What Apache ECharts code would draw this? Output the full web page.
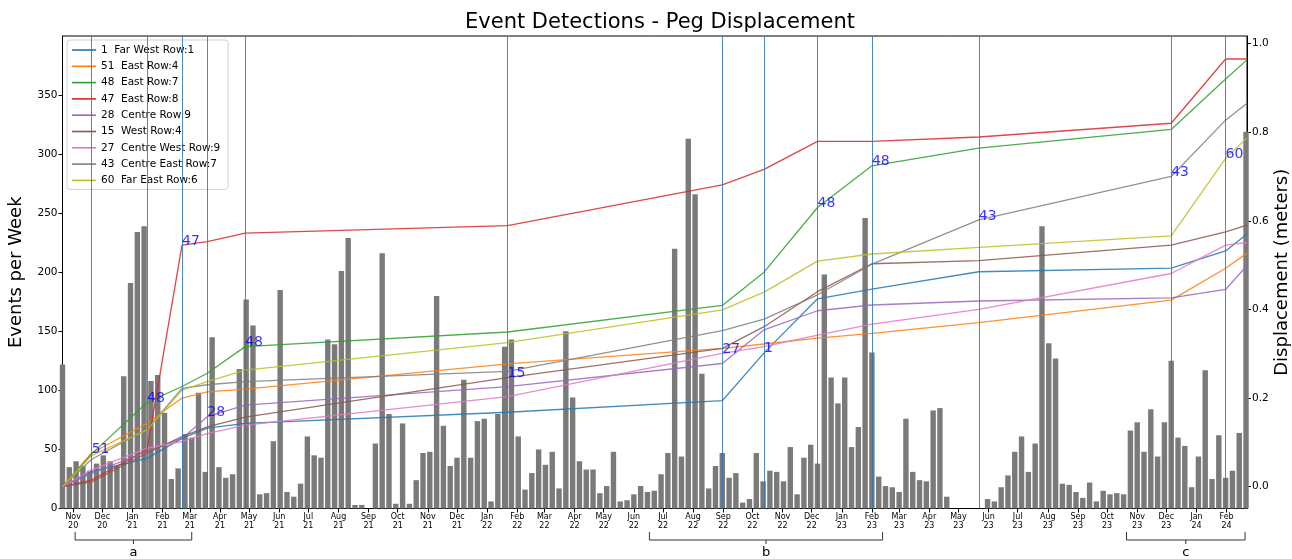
<!DOCTYPE html>
<html><head><meta charset="utf-8">
<script src="https://cdn.jsdelivr.net/npm/echarts@6/dist/echarts.min.js"></script>
<style>html,body{margin:0;padding:0;background:#fff}#chart{width:1292px;height:559px}</style>
</head><body><div id="chart"></div>
<script>
// ---------------- DATA ----------------
const firstWeek = '2020-10-21';
const axisStart = '2020-10-21';
const axisEnd = '2024-02-22';
const weeklyEvents = [
 122,35,40,36,32,38,45,40,36,112,
 191,234,239,108,113,81,25,34,63,60,
 98,31,145,35,26,29,118,177,155,12,
 13,57,185,14,10,21,61,45,43,143,
 139,201,229,3,3,0,55,216,80,4,
 72,4,24,47,48,180,70,36,43,109,
 43,74,76,6,80,137,143,61,16,30,
 50,37,48,17,150,94,40,33,33,13,
 19,48,6,7,12,19,14,15,29,47,
 220,44,313,266,114,17,36,47,26,30,
 5,8,47,23,32,31,23,52,12,43,
 54,38,198,111,89,111,52,69,246,132,
 27,19,18,14,76,31,24,23,83,85,
 10,0,0,0,0,0,8,6,18,28,
 48,61,31,55,239,140,127,21,20,14,
 9,22,6,15,12,13,12,66,73,48,
 84,44,73,125,60,53,18,44,117,25,
 62,26,32,64,319
];
const surveyDates = ['2020-10-21','2020-11-20','2021-01-16','2021-02-21','2021-03-19','2021-04-27',
 '2022-01-22','2022-08-31','2022-10-13','2022-12-07','2023-02-01','2023-05-22','2023-12-06','2024-01-31','2024-02-22'];
const stationNames = ['1  Far West Row:1','51  East Row:4','48  East Row:7','47  East Row:8','28  Centre Row:9',
 '15  West Row:4','27  Centre West Row:9','43  Centre East Row:7','60  Far East Row:6'];
const stationIds = [1,51,48,47,28,15,27,43,60];
const disp1  = [0,0.034,0.064,0.109,0.132,0.143,0.168,0.194,0.302,0.424,0.446,0.485,0.493,0.532,0.570];
const disp51 = [0,0.076,0.143,0.200,0.214,0.220,0.277,0.312,0.322,0.335,0.346,0.370,0.421,0.493,0.527];
const disp48 = [0,0.074,0.190,0.226,0.256,0.316,0.349,0.409,0.484,0.630,0.724,0.764,0.806,0.920,0.963];
const disp47 = [0,0.015,0.083,0.545,0.553,0.572,0.589,0.681,0.716,0.779,0.779,0.789,0.820,0.965,0.965];
const disp28 = [0,0.030,0.080,0.109,0.158,0.184,0.226,0.278,0.354,0.397,0.410,0.419,0.426,0.445,0.499];
const disp15 = [0,0.011,0.076,0.113,0.135,0.157,0.246,0.312,0.361,0.440,0.503,0.510,0.545,0.575,0.590];
const disp27 = [0,0.038,0.087,0.102,0.120,0.139,0.203,0.301,0.316,0.342,0.367,0.400,0.481,0.545,0.551];
const disp43 = [0,0.062,0.130,0.222,0.230,0.237,0.260,0.352,0.378,0.433,0.502,0.602,0.700,0.827,0.865];
const disp60 = [0,0.070,0.128,0.218,0.237,0.263,0.325,0.399,0.439,0.509,0.525,0.540,0.566,0.741,0.787];
const eventDates = ['2020-11-20','2021-01-16','2021-02-21','2021-03-19','2021-04-27','2022-01-22',
 '2022-08-31','2022-10-13','2022-12-07','2023-02-01','2023-05-22','2023-12-06','2024-01-31'];
const eventStations = [51,48,47,28,48,15,27,1,48,48,43,43,60];
const monthTicks = ['2020-11','2020-12','2021-01','2021-02','2021-03','2021-04','2021-05','2021-06','2021-07','2021-08',
 '2021-09','2021-10','2021-11','2021-12','2022-01','2022-02','2022-03','2022-04','2022-05','2022-06','2022-07','2022-08',
 '2022-09','2022-10','2022-11','2022-12','2023-01','2023-02','2023-03','2023-04','2023-05','2023-06','2023-07','2023-08',
 '2023-09','2023-10','2023-11','2023-12','2024-01','2024-02'];
const monthNames = ['Jan','Feb','Mar','Apr','May','Jun','Jul','Aug','Sep','Oct','Nov','Dec'];
const leftTicks = [0,50,100,150,200,250,300,350];
const rightTicks = [0,0.2,0.4,0.6,0.8,1.0];
const periods = [['2020-11-03','2021-03-03','a'],['2022-06-17','2023-02-12','b'],['2023-10-21','2024-02-20','c']];

// ---------------- CHART ----------------
const dispSeries = [disp1,disp51,disp48,disp47,disp28,disp15,disp27,disp43,disp60];
const colors = ['#1f77b4','#ff7f0e','#2ca02c','#d62728','#9467bd','#8c564b','#e377c2','#7f7f7f','#bcbd22'];
function ts(s){const p=s.split('-').map(Number);return new Date(p[0],p[1]-1,p[2]||1).getTime();}
const DAY=86400000;
const t0=ts(firstWeek);
const barData = weeklyEvents.map((v,i)=>[t0+i*7*DAY, v]);
const surveyTs = surveyDates.map(ts);
const monthTs = monthTicks.map(ts);
const FONT='DejaVu Sans';

const lineSeries = dispSeries.map((arr,k)=>({
  type:'line', name: stationNames[k], yAxisIndex:1, xAxisIndex:0,
  data: arr.map((v,i)=>[surveyTs[i], v]),
  symbol:'none', showSymbol:false, silent:true, z:3,
  lineStyle:{color:colors[k], width:1.3, opacity:0.85}, itemStyle:{color:colors[k]}
}));

const labelData = eventDates.map((d,i)=>{
  const k = stationIds.indexOf(eventStations[i]);
  const j = surveyDates.indexOf(d);
  return {value:[ts(d), dispSeries[k][j]], name:String(eventStations[i])};
});

const chart = echarts.init(document.getElementById('chart'), null, {renderer:'canvas'});
const option = {
  animation:false,
  backgroundColor:'#fff',
  title:{text:'Event Detections - Peg Displacement', left:655, top:7, textAlign:'center',
    textStyle:{fontFamily:FONT, fontSize:21, fontWeight:'normal', color:'#000'}},
  legend:{
    data: stationNames, orient:'vertical', left:67, top:40, selectedMode:false,
    icon:'rect', itemWidth:24, itemHeight:1.6, itemGap:4.3,
    padding:[4,8,3,5], backgroundColor:'rgba(255,255,255,0.85)', borderColor:'#d0d0d0', borderWidth:1, borderRadius:3,
    textStyle:{fontFamily:FONT, fontSize:10.5, color:'#000', lineHeight:12}
  },
  grid:{left:62.5, right:45, top:36, bottom:50.5, show:true, borderColor:'#000', borderWidth:1,
    backgroundColor:'transparent', containLabel:false, outerBoundsMode:'none'},
  xAxis:{
    type:'value', min:ts(axisStart), max:ts(axisEnd), scale:true,
    axisLine:{show:true, lineStyle:{color:'#000', width:1}},
    axisTick:{show:true, length:4, lineStyle:{color:'#000'}, customValues: monthTs},
    axisLabel:{fontFamily:FONT, fontSize:8, lineHeight:9, color:'#000', margin:4, hideOverlap:false,
      customValues: monthTs,
      formatter: v=>{const d=new Date(v); return monthNames[d.getMonth()]+'\n'+String(d.getFullYear()).slice(2);}},
    splitLine:{show:false}
  },
  yAxis:[
    {type:'value', min:0, max:400, position:'left',
     name:'Events per Week', nameLocation:'middle', nameGap:37, nameRotate:90, nameMoveOverlap:false,
     nameTextStyle:{fontFamily:FONT, fontSize:18, color:'#000'},
     axisLine:{show:true, lineStyle:{color:'#000'}},
     axisTick:{show:true, length:4, lineStyle:{color:'#000'}, customValues:leftTicks},
     axisLabel:{fontFamily:FONT, fontSize:10.5, color:'#000', margin:5, customValues:leftTicks},
     splitLine:{show:false}},
    {type:'value', min:-0.0492, max:1.0169, position:'right',
     name:'Displacement (meters)', nameLocation:'middle', nameGap:26, nameRotate:90, nameMoveOverlap:false,
     nameTextStyle:{fontFamily:FONT, fontSize:18, color:'#000'},
     axisLine:{show:true, lineStyle:{color:'#000'}},
     axisTick:{show:true, length:4, lineStyle:{color:'#000'}, customValues:rightTicks},
     axisLabel:{fontFamily:FONT, fontSize:10.5, color:'#000', margin:5, customValues:rightTicks,
       formatter:v=>Number(v).toFixed(1)},
     splitLine:{show:false}}
  ],
  series:[
    {type:'bar', name:'Events', yAxisIndex:0, data:barData, barWidth:5.4, clip:true, silent:true, z:1,
     itemStyle:{color:'#7a7a7a'},
     markLine:{silent:true, symbol:['none','none'], label:{show:false}, animation:false,
       lineStyle:{color:'#2f74b4', width:1, type:'solid', opacity:0.85},
       data: eventDates.map(d=>({xAxis:ts(d)}))}
    },
    ...lineSeries,
    {type:'scatter', name:'labels', yAxisIndex:1, data:labelData, symbolSize:0, silent:true, z:5,
     label:{show:true, position:[0,0], align:'left', verticalAlign:'bottom', offset:[0,3],
       formatter:p=>p.name, color:'#0000ff', fontFamily:FONT, fontSize:14}}
  ]
};
chart.setOption(option);

// period brackets below the x axis, positioned via the axis scale
const g = [];
const yBar = 540;
periods.forEach(([a,b,lab])=>{
  const x1 = chart.convertToPixel({xAxisIndex:0}, ts(a));
  const x2 = chart.convertToPixel({xAxisIndex:0}, ts(b));
  const xc = (x1+x2)/2;
  g.push({type:'polyline', shape:{points:[[x1,yBar-8],[x1,yBar],[x2,yBar],[x2,yBar-8]]}, style:{stroke:'#333', lineWidth:1, fill:null}});
  g.push({type:'line', shape:{x1:xc,y1:yBar,x2:xc,y2:yBar+4}, style:{stroke:'#333', lineWidth:1}});
  g.push({type:'text', x:xc, y:553, style:{text:lab, fontFamily:FONT, fontSize:13, fill:'#000', align:'center', verticalAlign:'middle'}});
});
chart.setOption({graphic:g});
</script></body></html>
